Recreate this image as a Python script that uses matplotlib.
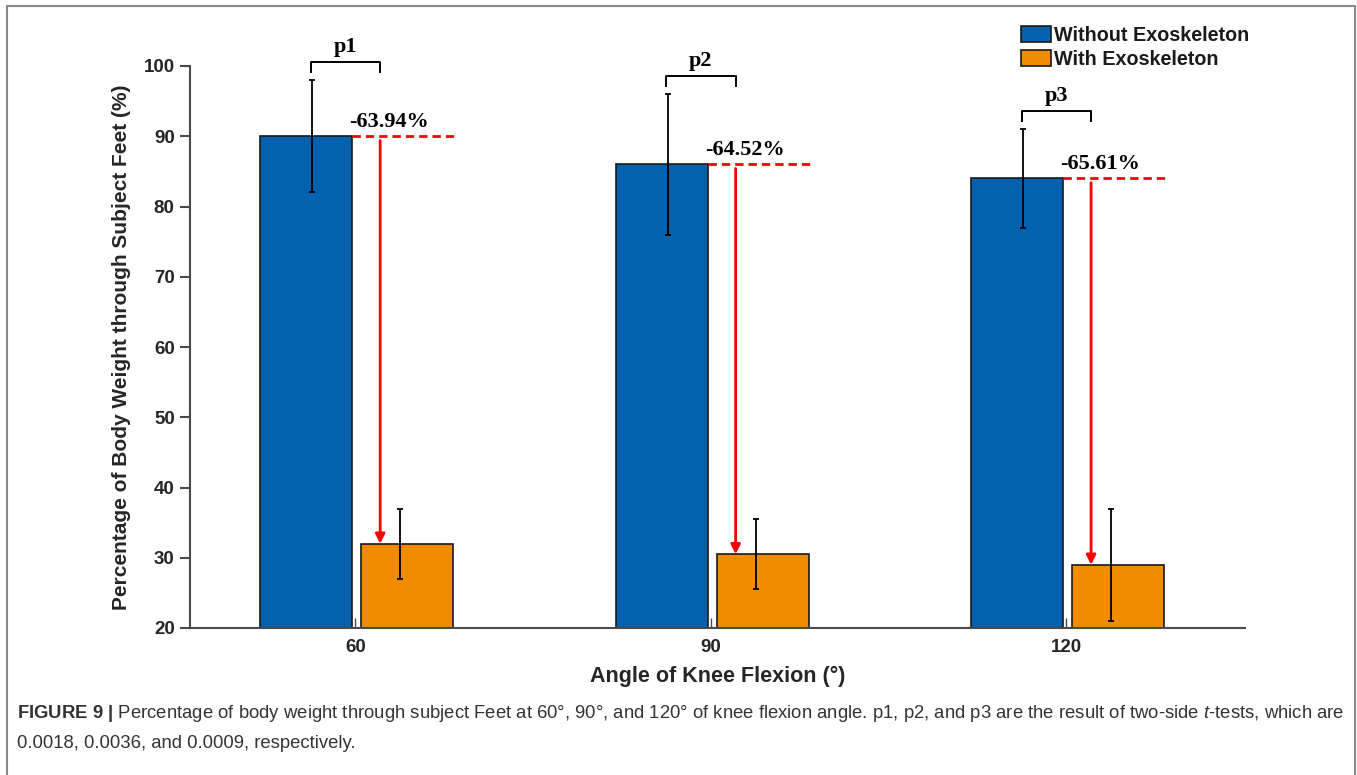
import numpy as np
import matplotlib
matplotlib.use('Agg')
import matplotlib.pyplot as plt
from matplotlib.patches import Rectangle, Patch
from matplotlib.font_manager import FontProperties

plt.rcParams['font.family'] = ['Liberation Sans', 'DejaVu Sans']
plt.rcParams['mathtext.fontset'] = 'custom'
plt.rcParams['mathtext.rm'] = 'Liberation Sans'
plt.rcParams['mathtext.it'] = 'Liberation Sans:italic'
plt.rcParams['mathtext.bf'] = 'Liberation Sans:bold'

# ---------------- data ----------------
angles = ['60', '90', '120']
without_mean = [90, 86, 84]
without_err = [8, 10, 7]
with_mean = [32, 30.5, 29]
with_err = [5, 5, 8]
reduction_labels = ['-63.94%', '-64.52%', '-65.61%']
p_labels = ['p1', 'p2', 'p3']
series_names = ['Without Exoskeleton', 'With Exoskeleton']
y_ticks = [20, 30, 40, 50, 60, 70, 80, 90, 100]

# ---------------- layout ----------------
W, H = 1357, 775
fig = plt.figure(figsize=(W / 100, H / 100), dpi=100)
ax = fig.add_axes([190 / W, 1 - 628 / H, (1245 - 190) / W, (628 - 66) / H])

blue = '#0062AE'
orange = '#F18B00'
edge = '#1a1a1a'
axis_gray = '#4a4a4a'
text_gray = '#262626'

x = np.arange(1, len(angles) + 1)
bw = 0.259
off_b, off_o = -0.138, 0.146
err_b, err_o = -0.121, 0.127
arr_off = 0.07

ax.bar(x + off_b, without_mean, width=bw, color=blue, edgecolor=edge, linewidth=1.2, zorder=2)
ax.bar(x + off_o, with_mean, width=bw, color=orange, edgecolor=edge, linewidth=1.2, zorder=2)
ax.errorbar(x + err_b, without_mean, yerr=without_err, fmt='none', ecolor='black',
            elinewidth=1.3, capsize=2.3, capthick=1.3, zorder=3)
ax.errorbar(x + err_o, with_mean, yerr=with_err, fmt='none', ecolor='black',
            elinewidth=1.3, capsize=2.3, capthick=1.3, zorder=3)

ax.set_xlim(0.535, 3.503)
ax.set_ylim(20, 100)
ax.set_yticks(y_ticks)
ax.set_xticks(x)
ax.set_xticklabels(angles)

for s in ['top', 'right']:
    ax.spines[s].set_visible(False)
for s in ['left', 'bottom']:
    ax.spines[s].set_color(axis_gray)
    ax.spines[s].set_linewidth(1.5)

ax.tick_params(axis='y', direction='out', length=7, width=1.5, color=axis_gray,
               labelsize=13.5, labelcolor=text_gray, pad=4)
ax.tick_params(axis='x', direction='in', length=7, width=1.0, color=axis_gray,
               labelsize=13.5, labelcolor=text_gray, pad=8)
for lab in ax.get_xticklabels() + ax.get_yticklabels():
    lab.set_fontweight('bold')

ax.set_ylabel('Percentage of Body Weight through Subject Feet (%)', fontsize=15,
              fontweight='bold', color=text_gray, labelpad=9)
ax.set_xlabel('Angle of Knee Flexion (°)', fontsize=15.5, fontweight='bold',
              color=text_gray, labelpad=7)

# ---------------- annotations ----------------
for i in range(len(angles)):
    xi = x[i]
    vb = without_mean[i]
    vo = with_mean[i]
    # dashed reference line
    ax.plot([xi + off_b + bw / 2, xi + 0.29], [vb, vb], color='red', lw=2.0,
            ls=(0, (3.0, 1.8)), clip_on=False, zorder=4)
    # arrow
    ax.annotate('', xy=(xi + arr_off, vo), xytext=(xi + arr_off, vb - 0.6),
                arrowprops=dict(arrowstyle='-|>', color='red', lw=2.0,
                                mutation_scale=14, shrinkA=0, shrinkB=0),
                zorder=4)
    ax.text(xi + 0.095, vb + 1.3, reduction_labels[i], fontsize=16, fontweight='bold',
            family='Liberation Serif', ha='center', va='baseline', color='black')
    # bracket
    top = without_mean[i] + without_err[i] + 2.6
    xl = xi + err_b - 0.004
    xr = xi + arr_off
    ax.plot([xl, xl, xr, xr], [top - 1.4, top, top, top - 1.4], color='black',
            lw=1.4, clip_on=False)
    ax.text((xl + xr) / 2, top + 1.35, p_labels[i], fontsize=16, fontweight='bold',
            family='Liberation Serif', ha='center', va='baseline', color='black')

# ---------------- legend ----------------
handles = [Patch(facecolor=blue, edgecolor=edge, linewidth=1.2, label=series_names[0]),
           Patch(facecolor=orange, edgecolor=edge, linewidth=1.2, label=series_names[1])]
leg = fig.legend(handles=handles, loc='upper left', bbox_to_anchor=(1021 / W, 1 - 26 / H),
                 frameon=False, handlelength=1.5, handleheight=0.87, handletextpad=0.15,
                 labelspacing=0.25, borderpad=0, borderaxespad=0,
                 prop=FontProperties(family='Liberation Sans', weight='bold', size=14.2))
for t in leg.get_texts():
    t.set_color('#1a1a1a')

# ---------------- caption & frame ----------------
cap1 = (r"$\bf{FIGURE\ 9\ |}$ Percentage of body weight through subject Feet at 60°, 90°, "
        r"and 120° of knee flexion angle. p1, p2, and p3 are the result of two-side "
        r"$\it{t}$-tests, which are")
cap2 = "0.0018, 0.0036, and 0.0009, respectively."
fig.text(17 / W, 1 - 714 / H, cap1, fontsize=13.3, color='#333333', ha='left', va='center')
fig.text(17 / W, 1 - 744 / H, cap2, fontsize=13.3, color='#333333', ha='left', va='center')

fig.add_artist(Rectangle((7 / W, -0.02), (1355 - 7) / W, 1.02 - 6 / H,
                         transform=fig.transFigure, fill=False, edgecolor='#8a8a8a',
                         linewidth=1.5))

fig.savefig('out.png', dpi=100)
